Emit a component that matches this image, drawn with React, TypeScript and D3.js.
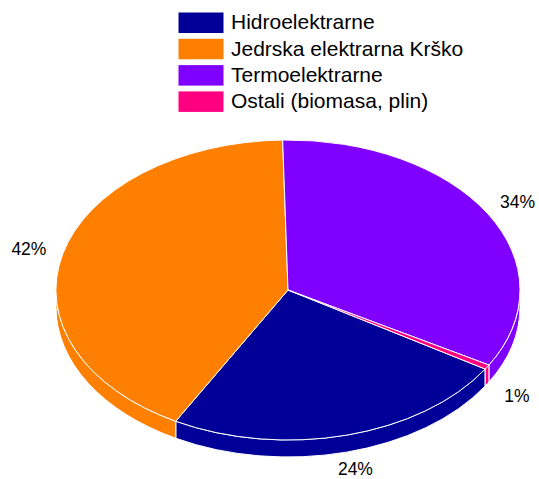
import React from "react";
import * as d3 from "d3";

// source shares (percent) in legend order
const categories = [
  "Hidroelektrarne",
  "Jedrska elektrarna Krško",
  "Termoelektrarne",
  "Ostali (biomasa, plin)"
];
const shares = [24.2, 41.6, 33.7, 0.5];
const percentLabels = ["24%", "42%", "34%", "1%"];
const colors = ["#000099", "#FF8000", "#8000FF", "#FF0080"];

const width = 539;
const height = 479;
const cx = 288;
const cy = 290;
const rx = 232;
const ry = 150;
const depth = 17;
const startAngle = (121.8 * Math.PI) / 180;

type Slice = d3.PieArcDatum<number>;

// side wall of a slice, in unit circle space (scaled later)
function sidePath(a0: number, a1: number) {
  const d = depth / ry;
  const p = d3.path();
  p.moveTo(Math.sin(a0), -Math.cos(a0));
  p.arc(0, 0, 1, a0 - Math.PI / 2, a1 - Math.PI / 2);
  p.lineTo(Math.sin(a1), -Math.cos(a1) + d);
  p.arc(0, d, 1, a1 - Math.PI / 2, a0 - Math.PI / 2, true);
  p.closePath();
  return p.toString();
}

export default function App() {
  const pie = d3
    .pie<number>()
    .sort(null)
    .startAngle(startAngle)
    .endAngle(startAngle + 2 * Math.PI);
  const slices: Slice[] = pie(shares);
  const arc = d3.arc<Slice>().innerRadius(0).outerRadius(1);

  // front halves where the wall is visible
  const fronts = [
    [Math.PI / 2, (3 * Math.PI) / 2],
    [(5 * Math.PI) / 2, (7 * Math.PI) / 2]
  ];
  const sides: { d: string; color: string }[] = [];
  slices.forEach((s, i) => {
    fronts.forEach(([f0, f1]) => {
      const a0 = Math.max(s.startAngle, f0);
      const a1 = Math.min(s.endAngle, f1);
      if (a1 > a0) sides.push({ d: sidePath(a0, a1), color: colors[i] });
    });
  });

  const legendY = d3
    .scaleBand<string>()
    .domain(categories)
    .range([12.5, 12.5 + 26.3 * categories.length]);

  return (
    <div style={{ position: "absolute", left: 0, top: 0 }}>
      <svg width={width} height={height} style={{ display: "block" }}>
        <rect width={width} height={height} fill="#fff" />
        <g transform={`translate(${cx},${cy}) scale(${rx},${ry})`}>
          {sides.map((s, i) => (
            <path
              key={"s" + i}
              d={s.d}
              fill={s.color}
              stroke="#fff"
              strokeWidth={1}
              vectorEffect="non-scaling-stroke"
            />
          ))}
          {slices.map((s, i) => (
            <path
              key={"t" + i}
              d={arc(s) || ""}
              fill={colors[i]}
              stroke="#fff"
              strokeWidth={1}
              vectorEffect="non-scaling-stroke"
            />
          ))}
        </g>
        {slices.map((s, i) => {
          const mid = (s.startAngle + s.endAngle) / 2;
          const k = 1.15;
          const x = cx + k * rx * Math.sin(mid);
          let y = cy - k * ry * Math.cos(mid) + (Math.cos(mid) < 0 ? depth : 0);
          y = Math.min(y, height - 10); // keep inside the frame
          return (
            <text
              key={"l" + i}
              x={x}
              y={y}
              textAnchor="middle"
              dominantBaseline="central"
              fontFamily="'Liberation Sans', Arial, sans-serif"
              fontSize={17.5}
              fill="#000"
            >
              {percentLabels[i]}
            </text>
          );
        })}
        {categories.map((c, i) => {
          const y = legendY(c)!;
          return (
            <g key={"g" + i}>
              <rect x={178.5} y={y} width={45} height={20.5} fill={colors[i]} />
              <text
                x={231}
                y={y + 16.8}
                fontFamily="'Liberation Sans', Arial, sans-serif"
                fontSize={21}
                fill="#000"
              >
                {c}
              </text>
            </g>
          );
        })}
      </svg>
    </div>
  );
}
